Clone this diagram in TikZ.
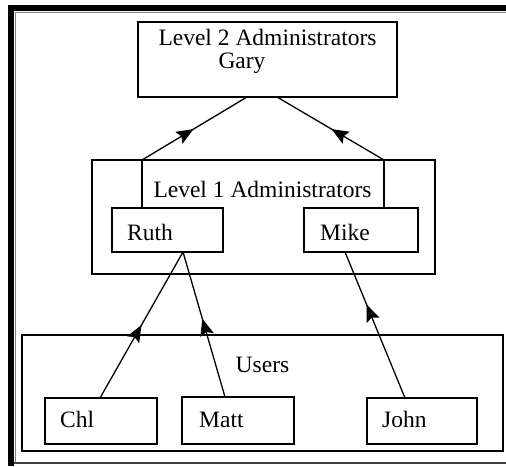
\documentclass[tikz,border=0pt]{standalone}
\usepackage{fontspec}
\setmainfont{Liberation Serif}
\usetikzlibrary{decorations.markings,arrows.meta}
\tikzset{
  box/.style={draw, line width=1.4pt, inner sep=0pt, outer sep=0pt, rectangle},
  txt/.style={inner sep=0pt, font=\fontsize{23.5}{28}\selectfont},
  conn/.style={line width=1.3pt, postaction={decorate},
    decoration={markings, mark=at position #1 with {\fill (0pt,0pt) -- (-17pt,7pt) -- (-14pt,0pt) -- (-17pt,-7pt) -- cycle;}}}
}
\begin{document}
\begin{tikzpicture}[x=1pt,y=-1pt]
\useasboundingbox (0,0) rectangle (506,466);
% frame
\fill[black] (8,5) rectangle (506,11);
\fill[black] (8,5) rectangle (14,466);
\draw[gray, line width=1pt] (15,12) -- (506,12);
\draw[gray, line width=1pt] (15,12) -- (15,463);
\draw[black!75, line width=1.3pt] (14,463) -- (506,463);
% boxes
\node[box, minimum width=259pt, minimum height=75pt] (gary) at (267.5,59.5) {};
\node[box, minimum width=343pt, minimum height=114pt] (l1) at (263.5,217) {};
\node[box, minimum width=111pt, minimum height=44pt] (ruth) at (167.5,230) {};
\node[box, minimum width=114pt, minimum height=44pt] (mike) at (361,230) {};
\node[box, minimum width=481pt, minimum height=116pt] (users) at (262.5,393) {};
\node[box, minimum width=112pt, minimum height=46pt] (chl) at (101,421) {};
\node[box, minimum width=112pt, minimum height=47pt] (matt) at (238,420.5) {};
\node[box, minimum width=110pt, minimum height=46pt] (john) at (422,421) {};
% texts
\node[txt, anchor=base] (t2) at (267.5,45) {Level 2 Administrators};
\node[txt, anchor=base] (tgary) at (242,68) {Gary};
\node[txt, anchor=base] (t1) at (262.5,197) {Level 1 Administrators};
\node[txt, anchor=base west] (truth) at (127,240) {Ruth};
\node[txt, anchor=base west] (tmike) at (320,240) {Mike};
\node[txt, anchor=base] (tusers) at (262.5,372) {Users};
\node[txt, anchor=base west] (tchl) at (60,427) {Chl};
\node[txt, anchor=base west] (tmatt) at (199,427) {Matt};
\node[txt, anchor=base west] (tjohn) at (382,427) {John};
% level 1 label sides
\coordinate (l1L) at (142,160);
\coordinate (l1R) at (384,160);
\coordinate (ruthT) at (142,208);
\coordinate (mikeT) at (384,208);
\draw[line width=1.4pt] (l1L) -- (ruthT);
\draw[line width=1.4pt] (l1R) -- (mikeT);
% connector points
\coordinate (garyL) at (247,97);
\coordinate (garyR) at (277,97);
\coordinate (ruthB) at (183,252);
\coordinate (mikeB) at (345,252);
\coordinate (chlT) at (100,398);
\coordinate (mattT) at (225,397);
\coordinate (johnT) at (405,398);
% connectors
\draw[conn=0.49] (l1L) -- (garyL);
\draw[conn=0.49] (l1R) -- (garyR);
\draw[conn=0.5] (chlT) -- (ruthB);
\draw[conn=0.54] (mattT) -- (ruthB);
\draw[conn=0.64] (johnT) -- (mikeB);
\end{tikzpicture}
\end{document}
